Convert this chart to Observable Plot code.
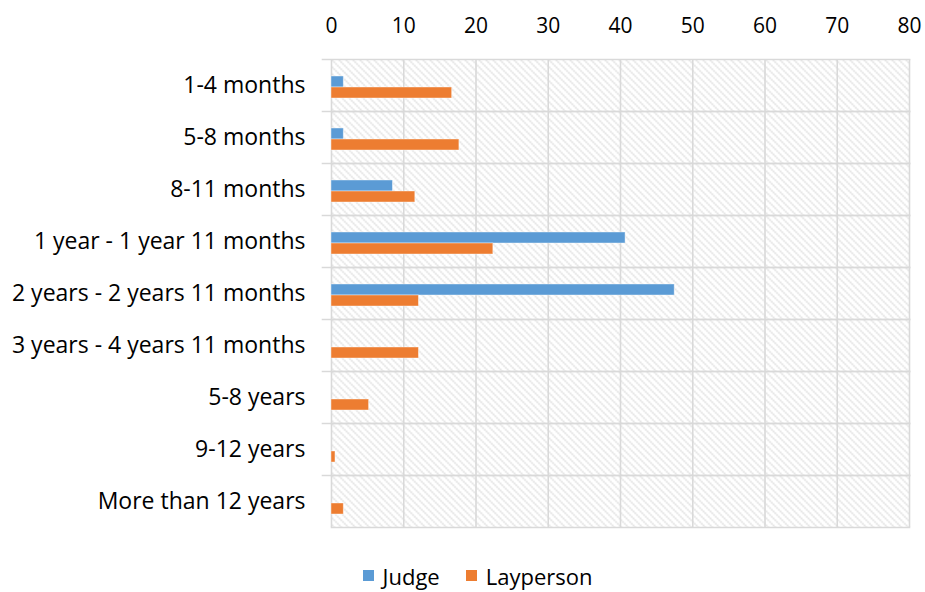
<!DOCTYPE html>
<html>
<head>
<meta charset="utf-8">
<script src="https://cdn.jsdelivr.net/npm/d3@7"></script>
<script src="https://cdn.jsdelivr.net/npm/@observablehq/plot@0.6"></script>
<style>
  html, body { margin: 0; padding: 0; background: #fff; }
  #chart { width: 925px; }
  .legend { display: flex; justify-content: center; align-items: center; gap: 26px; font-family: "Open Sans", Lato, sans-serif; font-size: 22px; line-height: 26px; color: #000; height: 47px; padding-top: 14px; box-sizing: border-box; margin-left: 30px; }
  .legend span.sw { display: inline-block; width: 11px; height: 11px; margin-right: 9px; }
  .legend .item { display: flex; align-items: center; }
</style>
</head>
<body>
<div id="chart"></div>
<script>
const categories = [
  "1-4 months",
  "5-8 months",
  "8-11 months",
  "1 year - 1 year 11 months",
  "2 years - 2 years 11 months",
  "3 years - 4 years 11 months",
  "5-8 years",
  "9-12 years",
  "More than 12 years"
];
const series = ["Judge", "Layperson"];
const judge = [1.7, 1.7, 8.5, 40.7, 47.5, 0, 0, 0, 0];
const layperson = [16.7, 17.7, 11.6, 22.4, 12.1, 12.1, 5.2, 0.55, 1.7];
const xTicks = [0, 10, 20, 30, 40, 50, 60, 70, 80];
const colors = ["#5B9BD5", "#ED7D31"];

const data = [];
categories.forEach((c, i) => {
  data.push({category: c, series: "Judge", value: judge[i]});
  data.push({category: c, series: "Layperson", value: layperson[i]});
});

const grid = "#d9d9d9";
const font = "'Open Sans', Lato, sans-serif";

const plot = Plot.plot({
  width: 925,
  height: 545,
  marginTop: 58,
  marginLeft: 331,
  marginRight: 16,
  marginBottom: 18,
  style: {fontFamily: font, fontSize: "21px", color: "#000", background: "#fff"},
  x: {domain: [0, 80], ticks: xTicks},
  fy: {domain: categories, padding: 0},
  y: {domain: series, paddingInner: 0, paddingOuter: 1.23, align: 0.55, axis: null},
  color: {domain: series, range: colors},
  marks: [
    Plot.frame({fill: "url(#hatch)", stroke: null}),
    Plot.gridX(xTicks, {stroke: grid, strokeOpacity: 1, strokeWidth: 1.6}),
    Plot.frame({anchor: "top", stroke: grid, strokeWidth: 1.6, insetLeft: -9}),
    Plot.frame({anchor: "bottom", stroke: grid, strokeWidth: 1.6}),
    Plot.barX(data, {x: "value", y: "series", fy: "category", fill: "series", stroke: "#fff", strokeOpacity: 0.5, strokeWidth: 0.8}),
    Plot.axisX(xTicks, {anchor: "top", tickSize: 0, tickPadding: 27, fontSize: 21, label: null}),
    Plot.axisFy({anchor: "left", tickSize: 0, tickPadding: 26, fontSize: 23, label: null})
  ]
});

// hatch pattern definition
const svg = d3.select(plot);
const defs = svg.insert("defs", ":first-child");
const pat = defs.append("pattern")
  .attr("id", "hatch")
  .attr("patternUnits", "userSpaceOnUse")
  .attr("width", 7)
  .attr("height", 7);
pat.append("rect").attr("width", 7).attr("height", 7).attr("fill", "#fff");
pat.append("path")
  .attr("d", "M-1,-1 L8,8 M-1,6 L1,8 M6,-1 L8,1")
  .attr("stroke", "#d2d2d2")
  .attr("stroke-width", 1.4)
  .attr("stroke-dasharray", "1.5,1");

document.getElementById("chart").appendChild(plot);

const legend = document.createElement("div");
legend.className = "legend";
series.forEach((s, i) => {
  const item = document.createElement("div");
  item.className = "item";
  const sw = document.createElement("span");
  sw.className = "sw";
  sw.style.background = colors[i];
  item.appendChild(sw);
  item.appendChild(document.createTextNode(s));
  legend.appendChild(item);
});
document.getElementById("chart").appendChild(legend);
</script>
</body>
</html>
